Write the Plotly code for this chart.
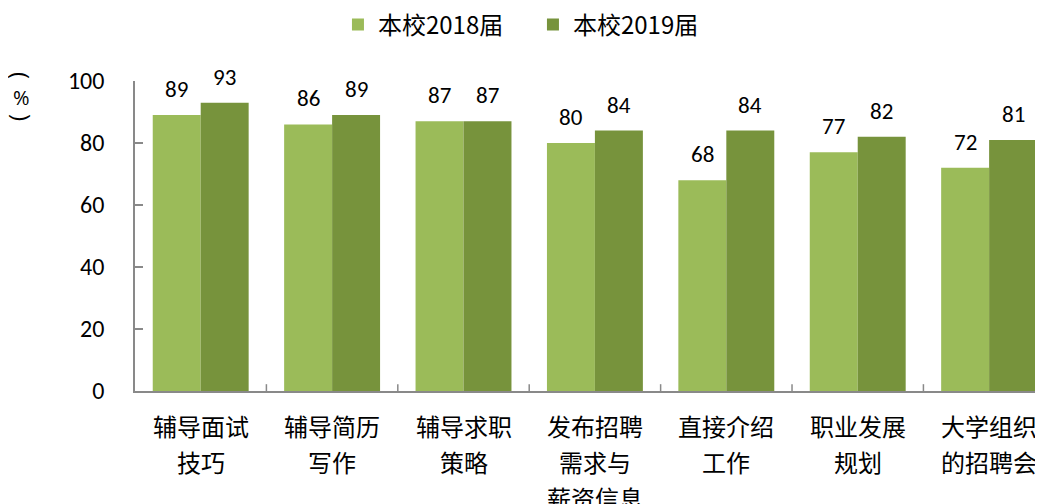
import plotly.graph_objects as go

categories = ["辅导面试<br>技巧", "辅导简历<br>写作", "辅导求职<br>策略", "发布招聘<br>需求与<br>薪资信息",
              "直接介绍<br>工作", "职业发展<br>规划", "大学组织<br>的招聘会"]
series_names = ["本校2018届", "本校2019届"]
values_2018 = [89, 86, 87, 80, 68, 77, 72]
values_2019 = [93, 89, 87, 84, 84, 82, 81]
y_ticks = [0, 20, 40, 60, 80, 100]

colors = ["#9BBB59", "#77933C"]
num_font = "Carlito, Calibri, 'Open Sans', sans-serif"
cjk_font = "'Noto Sans CJK SC', sans-serif"

fig = go.Figure()
xs = list(range(len(categories)))
for name, vals, col, lg in zip(series_names, [values_2018, values_2019], colors, ["legend", "legend2"]):
    fig.add_trace(go.Bar(
        x=xs, y=vals, name=name, legend=lg,
        marker=dict(color=col, line=dict(width=0)),
    ))

# value labels
for vals, shift in zip([values_2018, values_2019], [-24, 24]):
    for x, v in zip(xs, vals):
        fig.add_annotation(x=x, y=v, xref="x", yref="y", text=str(v), showarrow=False,
                           xshift=shift, yshift=10, yanchor="bottom", xanchor="center",
                           font=dict(size=23, family=num_font, color="#000000"))

# category labels, one annotation per line for Excel-like line spacing
for x, cat in zip(xs, categories):
    for j, line in enumerate(cat.split("<br>")):
        fig.add_annotation(x=x, y=0, xref="x", yref="y", text=line, showarrow=False,
                           yshift=-(34 + 36 * j), yanchor="middle", xanchor="center",
                           font=dict(size=24, family=cjk_font, color="#000000"))

legend_style = dict(orientation="h", xref="container", yref="paper",
                    xanchor="left", y=1.181, yanchor="middle",
                    font=dict(size=24, family=cjk_font, color="#000000"),
                    itemwidth=30, bgcolor="rgba(0,0,0,0)")
fig.update_layout(
    width=1035, height=496,
    margin=dict(l=127, r=0, t=73, b=113, autoexpand=False),
    paper_bgcolor="white", plot_bgcolor="white",
    barmode="group", bargap=0.27, bargroupgap=0,
    showlegend=True,
    legend=dict(x=0.3188, **legend_style),
    legend2=dict(x=0.5072, **legend_style),
    font=dict(family=cjk_font, color="#000000"),
)
fig.update_xaxes(
    tickmode="array", tickvals=xs, ticktext=["" for _ in xs],
    range=[-0.5, 6.41], automargin=False,
    showline=True, linecolor="#898989", linewidth=1.5,
    ticks="", showgrid=False, zeroline=False,
)
fig.update_yaxes(
    range=[0, 100], tickvals=y_ticks, ticktext=[str(t) for t in y_ticks],
    automargin=False,
    showline=True, linecolor="#898989", linewidth=1.5,
    ticks="inside", ticklen=8, tickcolor="#898989", tickwidth=1.5,
    showgrid=False, zeroline=False,
    tickfont=dict(size=24, family=num_font, color="#000000"),
    ticklabelstandoff=24,
)
# category boundary tick marks (inside) on x axis
for i in range(1, len(categories)):
    fig.add_shape(type="line", xref="x", yref="y domain", x0=i - 0.5, x1=i - 0.5,
                  y0=0, y1=0.022, line=dict(color="#898989", width=1.5))

# vertical y-axis title "（%）": rotated parentheses with upright percent sign
title_x = -0.1245
fig.add_annotation(text="(", xref="paper", yref="paper", x=title_x, y=1.016,
                   textangle=90, showarrow=False, xanchor="center", yanchor="middle",
                   font=dict(size=24, family="'Open Sans', sans-serif", color="#000000"))
fig.add_annotation(text="%", xref="paper", yref="paper", x=title_x, y=0.948,
                   showarrow=False, xanchor="center", yanchor="middle",
                   font=dict(size=20, family="'Open Sans', sans-serif", color="#000000"))
fig.add_annotation(text=")", xref="paper", yref="paper", x=title_x, y=0.881,
                   textangle=90, showarrow=False, xanchor="center", yanchor="middle",
                   font=dict(size=24, family="'Open Sans', sans-serif", color="#000000"))

fig.write_html("out.html")
